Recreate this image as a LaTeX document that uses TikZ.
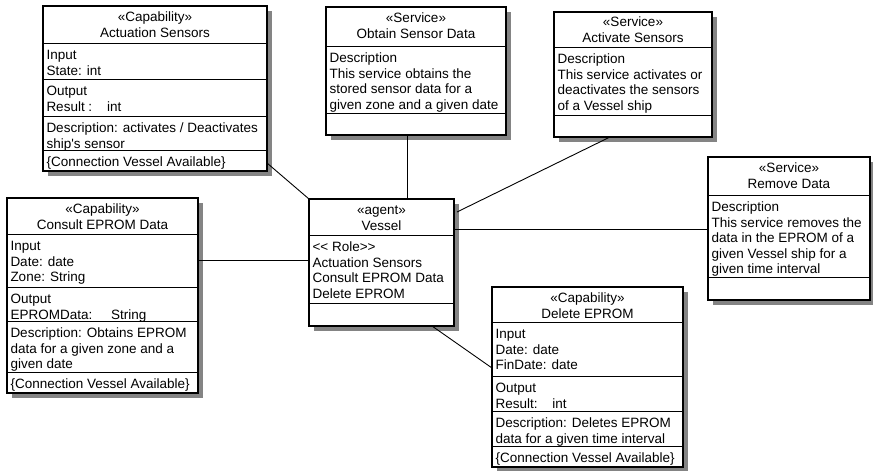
\documentclass[tikz,border=0pt]{standalone}
\usepackage{fontspec}
\setmainfont{Liberation Sans}
\usetikzlibrary{calc}

\tikzset{
  umlframe/.style={draw=black, line width=1.3pt, fill=white, inner sep=0pt, outer sep=0pt},
  umlshade/.style={fill={rgb,255:red,132;green,132;blue,132}},
  umlsep/.style={draw=black, line width=0.9pt},
  link/.style={draw=black, line width=0.9pt},
  txt/.style={anchor=base west, inner sep=0pt, outer sep=0pt},
  hdr/.style={anchor=base, inner sep=0pt, outer sep=0pt},
}

% box with drop shadow: name, x1, y1, x2, y2 (pixel-like units, y downwards)
\newcommand\umlbox[5]{%
  \fill[umlshade] (#2+5,#3+5) rectangle (#4+5,#5+5);
  \node[umlframe, anchor=north west, minimum width={#4-#2}, minimum height={#5-#3}] (#1) at (#2,#3) {};}
% horizontal compartment separator across a box
\newcommand\sepline[2]{\draw[umlsep] (#1.west |- 0,#2) -- (#1.east |- 0,#2);}
% centred two-line header: centre x, first baseline y, width, text
\newcommand\head[4]{\node[hdr] at (#1,#2) {\parbox[t]{#3pt}{\centering\fontsize{13.5}{16.5}\selectfont #4}};}
% left-aligned compartment text: left x, compartment top y, width, text
\newcommand\body[4]{\node[txt] at (#1+3.5,#2+16.5) {\parbox[t]{#3pt}{\raggedright\fontsize{13.5}{15.5}\selectfont #4}};}

\begin{document}
\begin{tikzpicture}[x=1pt, y=-1pt]
\fill[white] (0,0) rectangle (873,471);
\useasboundingbox (0,0) rectangle (873,471);

% ---------- Capability: Actuation Sensors ----------
\umlbox{cap1}{43}{6}{267}{171}
\sepline{cap1}{43}\sepline{cap1}{79}\sepline{cap1}{116}\sepline{cap1}{150}
\head{155}{21}{220}{«Capability»\\Actuation Sensors}
\body{43}{43}{220}{Input\\State: int}
\body{43}{79}{220}{Output\\Result :\hspace{1.1em}int}
\body{43}{116}{220}{Description: activates / Deactivates\\ship\textquotesingle s sensor}
\body{43}{150}{220}{\{Connection Vessel Available\}}

% ---------- Service: Obtain Sensor Data ----------
\umlbox{srv1}{326}{7}{506}{135}
\sepline{srv1}{46}\sepline{srv1}{113}
\head{416}{22}{176}{«Service»\\Obtain Sensor Data}
\body{326}{46}{176}{Description\\This service obtains the\\stored sensor data for a\\given zone and a given date}

% ---------- Service: Activate Sensors ----------
\umlbox{srv2}{554}{12}{712}{137}
\sepline{srv2}{47}\sepline{srv2}{115}
\head{633}{26.5}{154}{«Service»\\Activate Sensors}
\body{554}{47}{154}{Description\\This service activates or\\deactivates the sensors\\of a Vessel ship}

% ---------- Capability: Consult EPROM Data ----------
\umlbox{cap2}{7}{198}{198}{393}
\sepline{cap2}{234}\sepline{cap2}{287}\sepline{cap2}{321}\sepline{cap2}{372}
\head{102.5}{213}{187}{«Capability»\\Consult EPROM Data}
\body{7}{234}{187}{Input\\Date: date\\Zone: String}
\body{7}{287}{187}{Output\\EPROMData:\hspace{1.4em}String}
\body{7}{321}{187}{Description: Obtains EPROM\\data for a given zone and a\\given date}
\body{7}{372}{187}{\{Connection Vessel Available\}}

% ---------- Agent: Vessel ----------
\umlbox{agt}{309}{199}{454}{326}
\sepline{agt}{235}\sepline{agt}{303}
\head{381.5}{214}{141}{«agent»\\Vessel}
\body{309}{235}{141}{{<}{<} Role{>}{>}\\Actuation Sensors\\Consult EPROM Data\\Delete EPROM}

% ---------- Capability: Delete EPROM ----------
\umlbox{cap3}{492}{287}{683}{467}
\sepline{cap3}{322}\sepline{cap3}{376}\sepline{cap3}{411}\sepline{cap3}{446}
\head{587.5}{302}{187}{«Capability»\\Delete EPROM}
\body{492}{322}{187}{Input\\Date: date\\FinDate: date}
\body{492}{376}{187}{Output\\Result:\hspace{1.1em}int}
\body{492}{411}{187}{Description: Deletes EPROM\\data for a given time interval}
\body{492}{446}{187}{\{Connection Vessel Available\}}

% ---------- Service: Remove Data ----------
\umlbox{srv3}{708}{157}{870}{300}
\sepline{srv3}{195}\sepline{srv3}{277}
\head{789}{172}{158}{«Service»\\Remove Data}
\body{708}{195}{158}{Description\\This service removes the\\data in the EPROM of a\\given Vessel ship for a\\given time interval}

% ---------- associations to the agent ----------
\draw[link] ($(cap1.south east)+(0,-8)$) -- (agt.north west);
\draw[link] ($(srv1.south west)+(81,0)$) -- ($(agt.north west)+(98,0)$);
\draw[link] ($(srv2.south west)+(56,0)$) -- ($(agt.north east)+(3,13)$);
\draw[link] (cap2.east |- 0,260) -- (agt.west |- 0,260);
\draw[link] (srv3.west |- 0,229) -- (agt.east |- 0,229);
\draw[link] ($(agt.south west)+(123,0)$) -- ($(cap3.north west)+(0,81)$);
\end{tikzpicture}
\end{document}
